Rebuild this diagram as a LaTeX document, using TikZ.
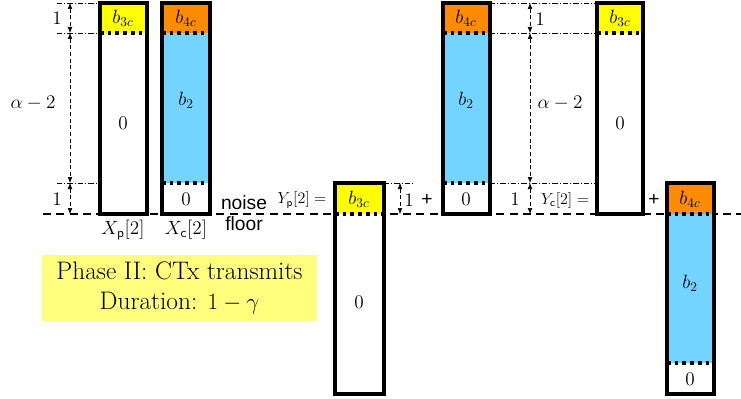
\documentclass[tikz,border=0pt]{standalone}
\usepackage{amsmath}
\usepackage{amssymb}
\usepackage{fontspec}
\usepackage{tikz}
\usetikzlibrary{arrows.meta}
\newfontfamily\helv{Liberation Sans}

\definecolor{yellowTop}{RGB}{255,255,0}
\definecolor{orangeTop}{RGB}{255,140,0}
\definecolor{blueMid}{RGB}{115,212,255}
\definecolor{phaseBox}{RGB}{255,255,125}

\begin{document}
\begin{tikzpicture}[x=0.75pt,y=0.75pt,yscale=-1,xscale=1,
  bar/.style={line width=2.5pt},
  lvl/.style={line width=2.6pt,dash pattern=on 2.8pt off 3pt},
  guide/.style={line width=0.4pt,dash pattern=on 4pt off 1.5pt on 0.8pt off 1.5pt},
  dimarr/.style={line width=0.4pt,densely dashed,{Latex[length=4.5pt,width=3.5pt]}-{Latex[length=4.5pt,width=3.5pt]}},
  floorline/.style={line width=0.8pt,dash pattern=on 6pt off 4pt},
  lbl/.style={inner sep=0.75pt,font=\Large}]
\useasboundingbox (0,0) rectangle (741,399);

%noise floor
\coordinate (nfA) at (43,214);
\coordinate (nfB) at (741,214);
\draw [floorline] (nfA) -- (nfB);

%Shape: Rectangle X_p[2]
\fill [white] (100,3) rectangle (147,214);
\fill [yellowTop] (100,3) rectangle (147,33);
\draw [lvl] (100,33) -- (147,33);
\draw [bar] (100,3) rectangle (147,214);
%Shape: Rectangle X_c[2]
\fill [white] (162,3) rectangle (210,214);
\fill [orangeTop] (162,3) rectangle (210,33);
\fill [blueMid] (162,33) rectangle (210,183);
\draw [lvl] (162,33) -- (210,33);
\draw [lvl] (162,183) -- (210,183);
\draw [bar] (162,3) rectangle (210,214);

%Shape: Rectangle Y_p[2]
\fill [white] (335,183) rectangle (384,394);
\fill [yellowTop] (335,183) rectangle (384,214);
\draw [lvl] (335,214) -- (384,214);
\draw [bar] (335,183) rectangle (384,394);
%Shape: Rectangle second term of Y_p[2]
\fill [white] (443,3) rectangle (490,214);
\fill [orangeTop] (443,3) rectangle (490,33);
\fill [blueMid] (443,33) rectangle (490,183);
\draw [lvl] (443,33) -- (490,33);
\draw [lvl] (443,183) -- (490,183);
\draw [bar] (443,3) rectangle (490,214);

%Shape: Rectangle Y_c[2]
\fill [white] (597,3) rectangle (643,214);
\fill [yellowTop] (597,3) rectangle (643,33);
\draw [lvl] (597,33) -- (643,33);
\draw [bar] (597,3) rectangle (643,214);
%Shape: Rectangle second term of Y_c[2]
\fill [white] (667,183) rectangle (714,394);
\fill [orangeTop] (667,183) rectangle (714,214);
\fill [blueMid] (667,214) rectangle (714,363);
\draw [lvl] (667,214) -- (714,214);
\draw [lvl] (667,363) -- (714,363);
\draw [bar] (667,183) rectangle (714,394);

%left levels
\coordinate (lA) at (70,3);
\coordinate (lB) at (70,33);
\coordinate (lC) at (70,183);
\coordinate (lD) at (70,214);
\draw [guide] (57,3) -- (100,3);
\draw [guide] (57,33) -- (100,33);
\draw [guide] (57,183) -- (100,183);
\draw [dimarr] (lA) -- (lB);
\draw [dimarr] (lB) -- (lC);
\draw [dimarr] (lC) -- (lD);

%middle level
\coordinate (mA) at (400,183);
\coordinate (mB) at (400,214);
\draw [guide] (384,183) -- (414,183);
\draw [dimarr] (mA) -- (mB);

%right levels
\coordinate (rA) at (530,3);
\coordinate (rB) at (530,33);
\coordinate (rC) at (530,183);
\coordinate (rD) at (530,214);
\draw [guide] (490,3) -- (597,3);
\draw [guide] (490,33) -- (597,33);
\draw [guide] (490,183) -- (597,183);
\draw [dimarr] (rA) -- (rB);
\draw [dimarr] (rB) -- (rC);
\draw [dimarr] (rC) -- (rD);

% Text Node
\node [lbl] (xpTop) at (123,18) {$b_{3c}$};
\node [lbl] (xpZero) at (123,123) {$0$};
\node [lbl] (xcTop) at (186,18) {$b_{4c}$};
\node [lbl] (xcMid) at (186,100) {$b_2$};
\node [lbl] (xcZero) at (186,199) {$0$};
\node [lbl] (xpName) at (123,230) {$X_{\mathsf{p}}[2]$};
\node [lbl] (xcName) at (186,230) {$X_{\mathsf{c}}[2]$};
% Text Node
\node [lbl,font=\Large\helv] (noise) at (244,203) {noise};
\node [lbl,font=\Large\helv] (floor) at (244,224) {floor};
% Text Node
\node [lbl] (oneL1) at (57,18) {$1$};
\node [lbl] (alphaL) at (33,103) {$\alpha-2$};
\node [lbl] (oneL2) at (57,199) {$1$};
% Text Node
\node [lbl,font=\large] (ypName) at (302,200) {$Y_{\mathsf{p}}[2]=$};
\node [lbl] (ypTop) at (359,199) {$b_{3c}$};
\node [lbl] (ypZero) at (359,302) {$0$};
\node [lbl] (oneM) at (409,200) {$1$};
\node [lbl,font=\Large\helv] (plusM) at (427,200) {+};
\node [lbl] (ypbTop) at (466,18) {$b_{4c}$};
\node [lbl] (ypbMid) at (466,100) {$b_2$};
\node [lbl] (ypbZero) at (466,199) {$0$};
% Text Node
\node [lbl] (oneR1) at (540,19) {$1$};
\node [lbl] (alphaR) at (560,103) {$\alpha-2$};
\node [lbl] (oneR2) at (515,199) {$1$};
\node [lbl,font=\large] (ycName) at (565,200) {$Y_{\mathsf{c}}[2]=$};
\node [lbl] (ycTop) at (620,18) {$b_{3c}$};
\node [lbl] (ycZero) at (620,123) {$0$};
\node [lbl,font=\Large\helv] (plusR) at (654,200) {+};
\node [lbl] (ycbTop) at (690,199) {$b_{4c}$};
\node [lbl] (ycbMid) at (690,283) {$b_2$};
\node [lbl] (ycbZero) at (690,379) {$0$};

%Phase box
\fill [phaseBox] (42,255) rectangle (317,321);
\node [lbl,font=\fontsize{19}{23}\selectfont,align=center] (phase) at (179.5,288) {Phase II: CTx transmits\\Duration: $1-\gamma$};

\end{tikzpicture}
\end{document}
